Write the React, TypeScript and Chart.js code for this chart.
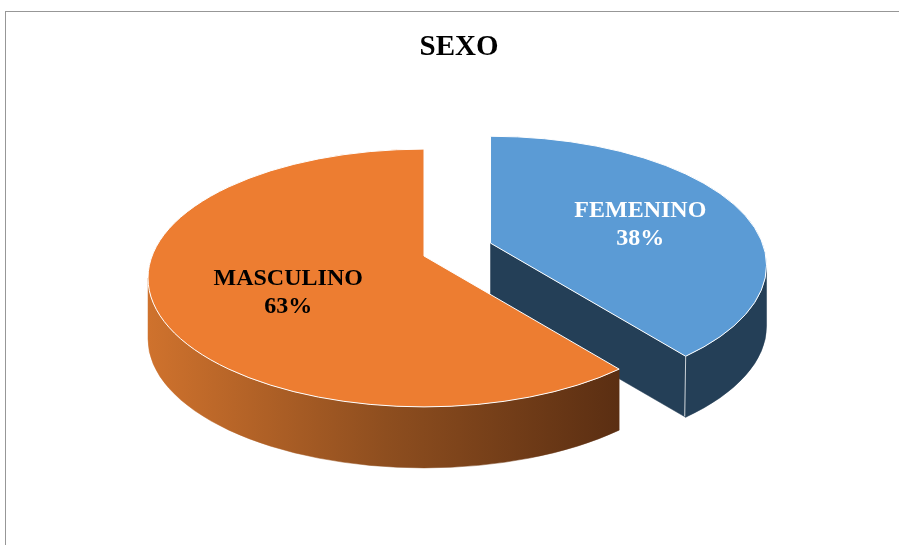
import React, { useEffect, useRef } from 'react';
import { Chart, registerables } from 'chart.js';

Chart.register(...registerables);

// ---- data ----
const categories = ['FEMENINO', 'MASCULINO'];
const values = [37.5, 62.5];
const percentLabels = ['38%', '63%'];
const chartTitle = 'SEXO';

// ---- styles ----
const topColors = ['#5B9BD5', '#ED7D31'];
const labelColors = ['#FFFFFF', '#000000'];
const explodeOffsets = [72, 0];

const W = 899;
const H = 545;
const TILT = 0.467;
const DEPTH = 61;
const RADIUS = 276;
const APEX_LIFT = 22;
const LABEL_FRAC = 0.56;
const LABEL_DX = 7;
const LABEL_DY = -3;
const FONT = '"Liberation Serif", "Times New Roman", serif';

function sideFill(ctx: CanvasRenderingContext2D, i: number, cx: number, R: number): string | CanvasGradient {
  if (i === 0) return '#243F57';
  const g = ctx.createLinearGradient(cx - R, 0, cx + R * 0.72, 0);
  g.addColorStop(0, '#CF722D');
  g.addColorStop(0.5, '#8E4E1F');
  g.addColorStop(1, '#5A2E12');
  return g;
}

function geom(arc: any, i: number) {
  const p = arc.getProps(['x', 'y', 'startAngle', 'endAngle', 'outerRadius'], true);
  const mid = (p.startAngle + p.endAngle) / 2;
  const cx = p.x + Math.cos(mid) * explodeOffsets[i];
  const cy = p.y + Math.sin(mid) * explodeOffsets[i] * TILT;
  const R = p.outerRadius;
  return { a1: p.startAngle, a2: p.endAngle, mid, cx, cy, R, Ry: R * TILT, ax: cx, ay: cy - APEX_LIFT };
}

const pie3dPlugin = {
  id: 'pie3d',
  beforeDraw(chart: any) {
    const ctx: CanvasRenderingContext2D = chart.ctx;
    ctx.save();
    ctx.fillStyle = '#FFFFFF';
    ctx.fillRect(0, 0, W, H);
    ctx.strokeStyle = '#979797';
    ctx.lineWidth = 1;
    ctx.strokeRect(5.5, 11.5, 2000, 2000);
    ctx.restore();
  },
  beforeDatasetsDraw(chart: any) {
    const ctx: CanvasRenderingContext2D = chart.ctx;
    const meta = chart.getDatasetMeta(0);
    meta.data.forEach((arc: any, i: number) => {
      const g = geom(arc, i);
      const { cx, cy, R, Ry, ax, ay, a1, a2 } = g;
      const fill = sideFill(ctx, i, cx, R);

      ctx.save();
      ctx.fillStyle = fill;
      ctx.strokeStyle = fill as any;
      ctx.lineWidth = 0.5;

      // radial faces
      const radial = (a: number) => {
        const rx = cx + R * Math.cos(a);
        const ry = cy + Ry * Math.sin(a);
        ctx.beginPath();
        ctx.moveTo(ax, ay);
        ctx.lineTo(rx, ry);
        ctx.lineTo(rx, ry + DEPTH);
        ctx.lineTo(ax, ay + DEPTH);
        ctx.closePath();
        ctx.fill();
        ctx.stroke();
      };
      if (Math.cos(a1) < -1e-6) radial(a1);
      if (Math.cos(a2) > 1e-6) radial(a2);

      // curved outer walls (front half)
      const ranges = [[0, Math.PI], [2 * Math.PI, 3 * Math.PI], [-2 * Math.PI, -Math.PI]];
      ranges.forEach(([lo, hi]) => {
        const b1 = Math.max(a1, lo);
        const b2 = Math.min(a2, hi);
        if (b2 - b1 <= 1e-4) return;
        ctx.beginPath();
        ctx.ellipse(cx, cy, R, Ry, 0, b1, b2, false);
        ctx.ellipse(cx, cy + DEPTH, R, Ry, 0, b2, b1, true);
        ctx.closePath();
        ctx.fill();
        ctx.stroke();
      });

      // corner highlight
      if (Math.cos(a2) > 1e-6 && Math.sin(a2) > 0) {
        const rx = cx + R * Math.cos(a2);
        const ry = cy + Ry * Math.sin(a2);
        ctx.strokeStyle = 'rgba(255,255,255,0.75)';
        ctx.lineWidth = 1;
        ctx.beginPath();
        ctx.moveTo(rx, ry);
        ctx.lineTo(rx - 1, ry + DEPTH - 1);
        ctx.stroke();
      }
      ctx.restore();

      // top face, from the library arc element's geometry and options
      const o = arc.options;
      ctx.save();
      ctx.beginPath();
      ctx.moveTo(ax, ay);
      ctx.lineTo(cx + R * Math.cos(a1), cy + Ry * Math.sin(a1));
      ctx.ellipse(cx, cy, R, Ry, 0, a1, a2, false);
      ctx.closePath();
      ctx.fillStyle = o.backgroundColor;
      ctx.fill();
      ctx.strokeStyle = o.borderColor;
      ctx.lineWidth = o.borderWidth;
      ctx.lineJoin = 'bevel';
      ctx.stroke();
      ctx.restore();
    });
    return false;
  },
  afterDraw(chart: any) {
    const ctx: CanvasRenderingContext2D = chart.ctx;
    const meta = chart.getDatasetMeta(0);
    ctx.save();
    ctx.textAlign = 'center';
    ctx.textBaseline = 'middle';
    ctx.fillStyle = '#000000';
    ctx.font = `bold 29px ${FONT}`;
    ctx.fillText(chartTitle, 459, 48);

    ctx.font = `bold 24px ${FONT}`;
    meta.data.forEach((arc: any, i: number) => {
      const g = geom(arc, i);
      const rimX = g.cx + g.R * Math.cos(g.mid);
      const rimY = g.cy + g.Ry * Math.sin(g.mid);
      const lx = g.ax + (rimX - g.ax) * LABEL_FRAC + LABEL_DX;
      const ly = g.ay + (rimY - g.ay) * LABEL_FRAC + LABEL_DY;
      ctx.fillStyle = labelColors[i];
      ctx.fillText(categories[i], lx, ly - 14);
      ctx.fillText(percentLabels[i], lx, ly + 14);
    });
    ctx.restore();
  },
};

export default function App() {
  const ref = useRef<HTMLCanvasElement>(null);
  useEffect(() => {
    const chart = new Chart(ref.current as HTMLCanvasElement, {
      type: 'pie',
      data: {
        labels: categories,
        datasets: [
          {
            data: values,
            backgroundColor: topColors,
            borderColor: '#FFFFFF',
            borderWidth: 1,
            radius: RADIUS,
          } as any,
        ],
      },
      options: {
        responsive: false,
        animation: false,
        devicePixelRatio: 1,
        layout: { padding: { left: 0, right: 51, top: 11, bottom: 0 } },
        plugins: {
          legend: { display: false },
          tooltip: { enabled: false },
          title: { display: false },
        },
      } as any,
      plugins: [pie3dPlugin as any],
    });
    return () => chart.destroy();
  }, []);
  return (
    <div style={{ position: 'fixed', left: 0, top: 0, width: W, height: H, background: '#fff' }}>
      <canvas ref={ref} width={W} height={H} style={{ display: 'block' }} />
    </div>
  );
}
